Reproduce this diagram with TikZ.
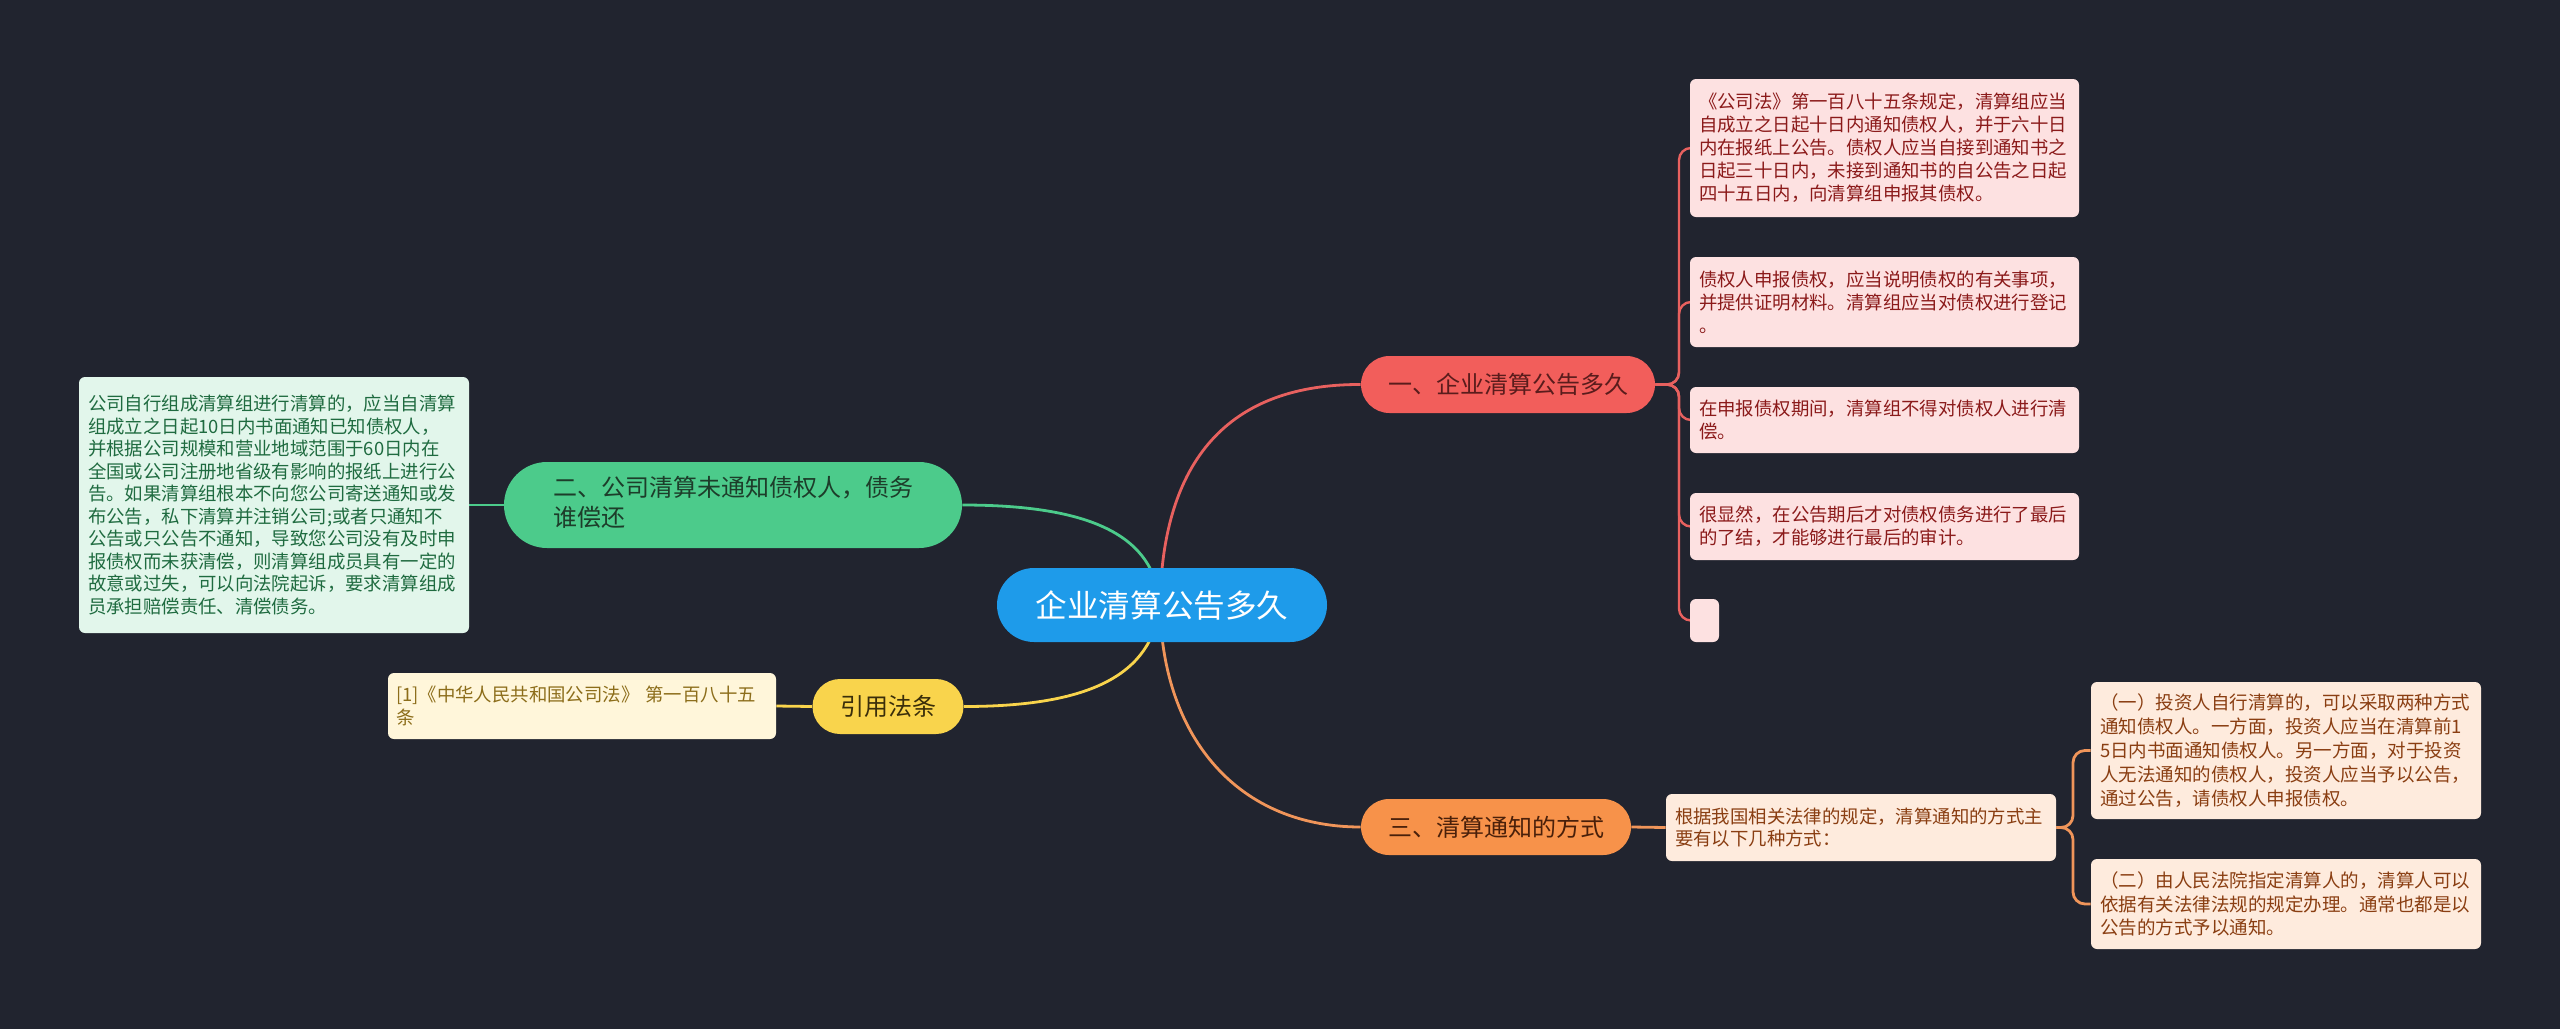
\documentclass[tikz,border=0pt]{standalone}
\usepackage{fontspec}
\setmainfont{Noto Sans CJK SC}
\usetikzlibrary{shapes.misc,backgrounds}
\definecolor{bgc}{HTML}{21242F}
\definecolor{cblue}{HTML}{1E9BEA}
\definecolor{cred}{HTML}{F25E5B}
\definecolor{credline}{HTML}{E8615F}
\definecolor{credtext}{HTML}{5A1C1C}
\definecolor{cpink}{HTML}{FDE1E1}
\definecolor{cpinktext}{HTML}{8B1A1A}
\definecolor{cgreen}{HTML}{4CCB8B}
\definecolor{cgreentext}{HTML}{1D3D2A}
\definecolor{cgreenbox}{HTML}{E2F6EB}
\definecolor{cgreenboxtext}{HTML}{1F6B40}
\definecolor{cyellow}{HTML}{F9D44C}
\definecolor{cyellowtext}{HTML}{3A2E0A}
\definecolor{cyellowbox}{HTML}{FFF6DA}
\definecolor{cyellowboxtext}{HTML}{8C6D1A}
\definecolor{corange}{HTML}{F7924A}
\definecolor{corangetext}{HTML}{4A200A}
\definecolor{corangebox}{HTML}{FEEBDD}
\definecolor{corangeboxtext}{HTML}{8A3E12}
\definecolor{corangeline}{HTML}{F0955A}
\begin{document}
\begin{tikzpicture}[x=0.5pt,y=-0.5pt,
  pill/.style={rounded rectangle, inner sep=0pt, align=center},
  leaf/.style={rectangle, rounded corners=3pt, inner xsep=4.5pt, inner ysep=0pt, align=left},
  link/.style={line width=1.4pt}]
% main topic
\node[pill, fill=cblue, text=white, minimum width=165pt, minimum height=37pt,
  font=\fontsize{15.8pt}{18pt}\selectfont] (c) at (1162,605) {企业清算公告多久};
% branch 1
\node[pill, fill=cred, text=credtext, minimum width=147pt, minimum height=28.5pt,
  font=\fontsize{12pt}{14pt}\selectfont] (n1) at (1508,384.5) {一、企业清算公告多久};
\tikzset{pinkleaf/.style={leaf, fill=cpink, text=cpinktext, text width=185.5pt,
  font=\fontsize{9.2pt}{11.5pt}\selectfont}}
\node[pinkleaf, minimum height=69pt] (p1) at (1884.5,148) {《公司法》第一百八十五条规定，清算组应当\\自成立之日起十日内通知债权人，并于六十日\\内在报纸上公告。债权人应当自接到通知书之\\日起三十日内，未接到通知书的自公告之日起\\四十五日内，向清算组申报其债权。};
\node[pinkleaf, minimum height=45pt] (p2) at (1884.5,302) {债权人申报债权，应当说明债权的有关事项，\\并提供证明材料。清算组应当对债权进行登记\\。};
\node[pinkleaf, minimum height=33pt] (p3) at (1884.5,420) {在申报债权期间，清算组不得对债权人进行清\\偿。};
\node[pinkleaf, minimum height=33.5pt] (p4) at (1884.5,526.5) {很显然，在公告期后才对债权债务进行了最后\\的了结，才能够进行最后的审计。};
\node[rectangle, rounded corners=3pt, fill=cpink, minimum width=14.5pt, minimum height=21.5pt, inner sep=0pt] (p5) at (1704.5,620.5) {};
% branch 2
\node[pill, fill=cgreen, text=cgreentext, minimum width=229pt, minimum height=43pt,
  font=\fontsize{12pt}{15pt}\selectfont] (n2) at (733,505) {\begin{tabular}{@{}l@{}}二、公司清算未通知债权人，债务\\谁偿还\end{tabular}};
\node[leaf, fill=cgreenbox, text=cgreenboxtext, text width=186pt, minimum height=128pt,
  font=\fontsize{9.2pt}{11.25pt}\selectfont] (g1) at (274,505) {公司自行组成清算组进行清算的，应当自清算\\组成立之日起10日内书面通知已知债权人，\\并根据公司规模和营业地域范围于60日内在\\全国或公司注册地省级有影响的报纸上进行公\\告。如果清算组根本不向您公司寄送通知或发\\布公告，私下清算并注销公司;或者只通知不\\公告或只公告不通知，导致您公司没有及时申\\报债权而未获清偿，则清算组成员具有一定的\\故意或过失，可以向法院起诉，要求清算组成\\员承担赔偿责任、清偿债务。};
% branch yellow
\node[pill, fill=cyellow, text=cyellowtext, minimum width=75.5pt, minimum height=27.5pt,
  font=\fontsize{12pt}{14pt}\selectfont] (ny) at (888,706.5) {引用法条};
\node[leaf, fill=cyellowbox, text=cyellowboxtext, text width=186pt, inner xsep=4pt, minimum height=33pt,
  font=\fontsize{9.2pt}{11.5pt}\selectfont] (y1) at (582,706) {[1]《中华人民共和国公司法》 第一百八十五\\条};
% branch 3
\node[pill, fill=corange, text=corangetext, minimum width=135pt, minimum height=28pt,
  font=\fontsize{12pt}{14pt}\selectfont] (n3) at (1496,827) {三、清算通知的方式};
\node[leaf, fill=corangebox, text=corangeboxtext, text width=186pt, minimum height=33.5pt,
  font=\fontsize{9.2pt}{11pt}\selectfont] (o1) at (1861,827.5) {根据我国相关法律的规定，清算通知的方式主\\要有以下几种方式：};
\tikzset{orleaf/.style={leaf, fill=corangebox, text=corangeboxtext, text width=186pt,
  font=\fontsize{9.25pt}{11.9pt}\selectfont}}
\node[orleaf, minimum height=68.5pt] (oa) at (2286,750.5) {（一）投资人自行清算的，可以采取两种方式\\通知债权人。一方面，投资人应当在清算前1\\5日内书面通知债权人。另一方面，对于投资\\人无法通知的债权人，投资人应当予以公告，\\通过公告，请债权人申报债权。};
\node[orleaf, minimum height=45pt] (ob) at (2286,904) {（二）由人民法院指定清算人的，清算人可以\\依据有关法律法规的规定办理。通常也都是以\\公告的方式予以通知。};
% background and connectors
\begin{pgfonlayer}{background}
\fill[bgc] (0,0) rectangle (2560,1029);
\coordinate (c0) at (1160,605);
\draw[link, credline] (c0) .. controls (1162,470) and (1220,384) .. (n1.west);
\draw[link, cgreen] (c0) .. controls (1155,535) and (1090,505) .. (n2.east);
\draw[link, cyellow] (c0) .. controls (1152,675) and (1090,706.5) .. (ny.east);
\draw[link, corangeline] (c0) .. controls (1162,740) and (1240,827) .. (n3.west);
\coordinate (r1) at (1679,384.5);
\foreach \b in {p1,p2,p3,p4,p5}{
  \draw[link, credline, line width=1.2pt, rounded corners=6pt] (n1.east) -- (r1) |- (\b.west);
}
\draw[link, cgreen] (n2.west) -- (g1.east);
\draw[link, cyellow] (ny.west) -- (y1.east);
\draw[link, corangeline] (n3.east) -- (o1.west);
\coordinate (r3) at (2073,827.5);
\draw[link, corangeline, rounded corners=6pt] (o1.east) -- (r3) |- (oa.west);
\draw[link, corangeline, rounded corners=6pt] (o1.east) -- (r3) |- (ob.west);
\end{pgfonlayer}
\end{tikzpicture}
\end{document}
